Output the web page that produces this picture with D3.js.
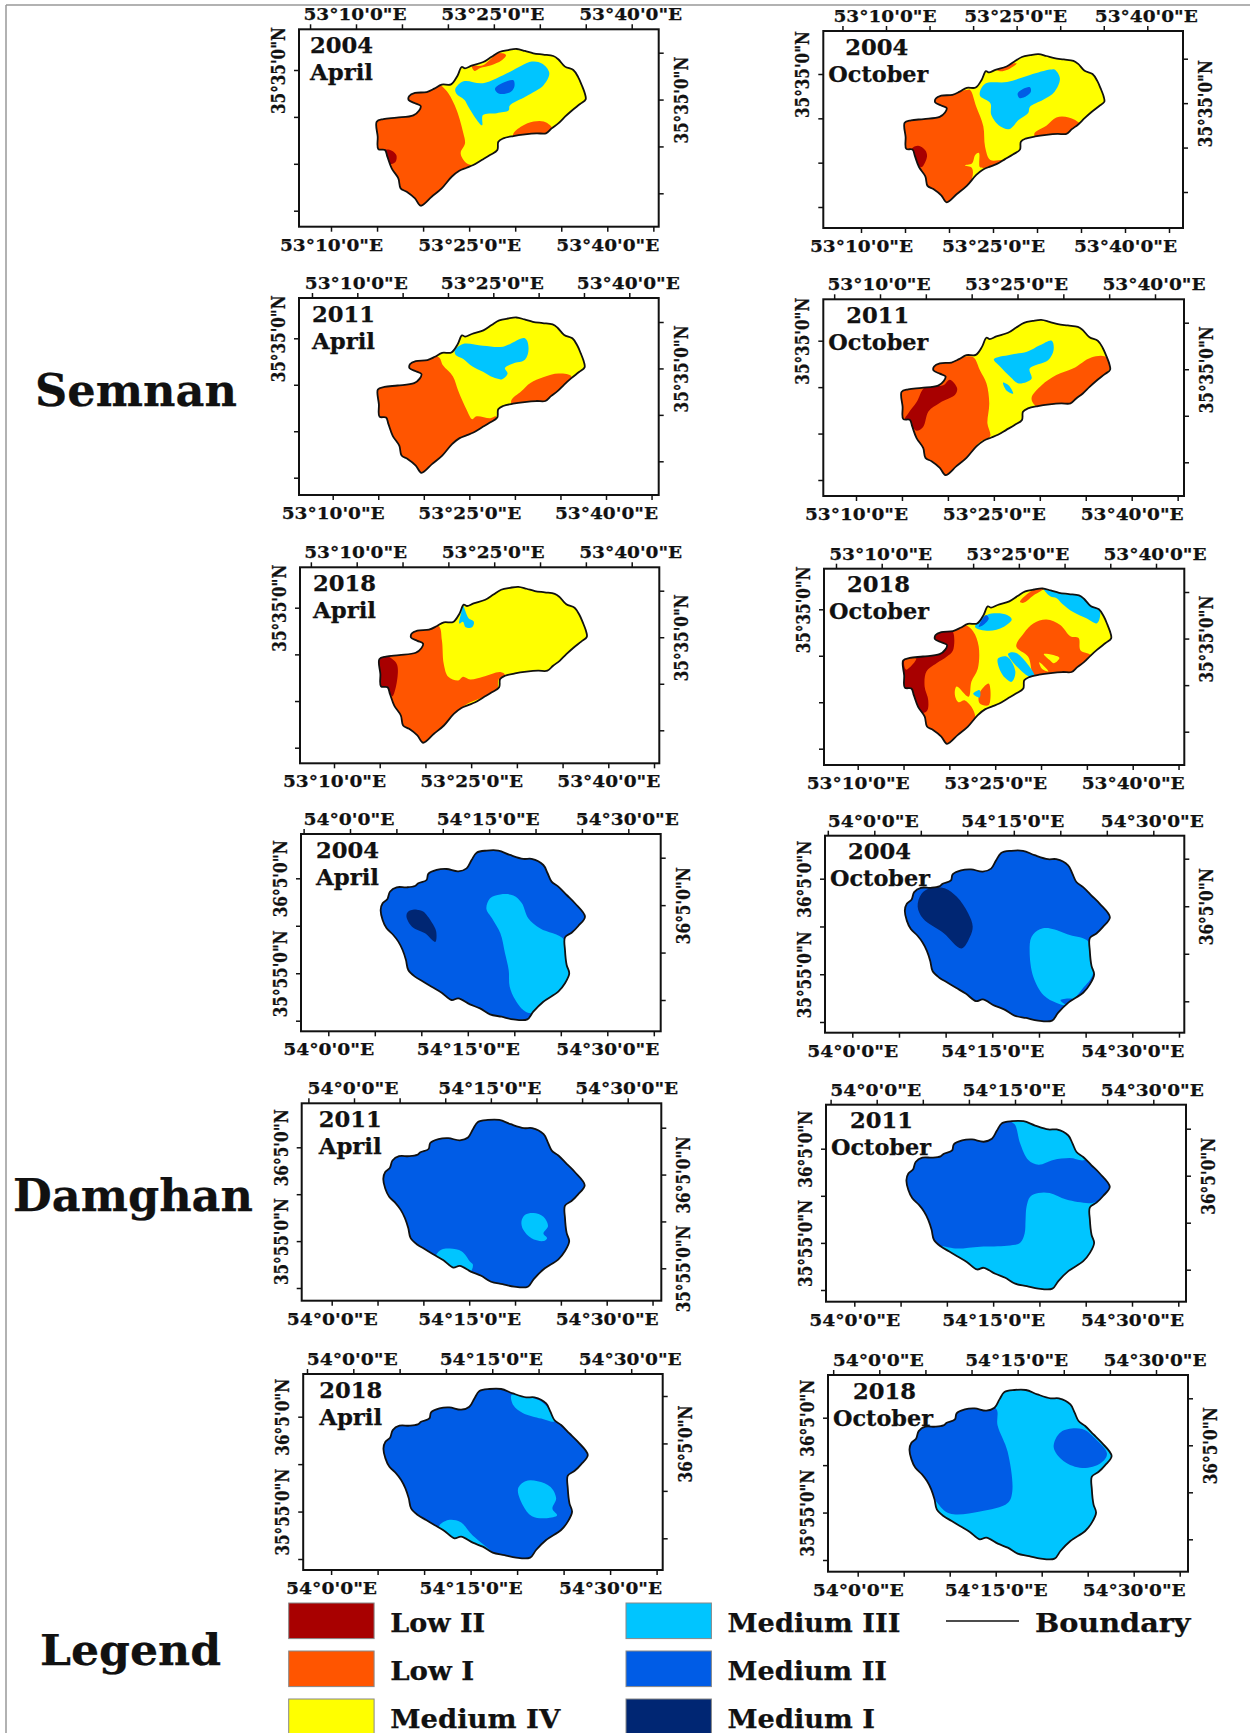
<!DOCTYPE html>
<html>
<head>
<meta charset="utf-8">
<script src="https://cdn.jsdelivr.net/npm/d3@7"></script>
<style>
  body { margin: 0; background: #fff; }
  text { font-family: "DejaVu Serif", serif; font-weight: bold; fill: #111; stroke: #111; stroke-width: 0.25; }
</style>
</head>
<body>
<script>
// all map points are [lon, lat] in arc minutes from the region's base degree
// semnan base 53E 35N, damghan base 54E 36N

let classNames = ['Low II', 'Low I', 'Medium IV', 'Medium III', 'Medium II', 'Medium I']
let classColors = ['#a80000', '#ff5500', '#ffff00', '#00c5ff', '#005ce6', '#002673']

let semnanBoundary = [[14.96,29.49],[15.68,29.77],[17.13,29.92],[18.94,30.17],[19.55,30.66],[19.74,31.16],[19.12,31.45],[18.43,31.8],[18.5,32.23],[19.12,32.55],[20.39,32.65],[21.22,33.01],[22.02,33.44],[23.03,33.47],[23.72,34.36],[24.19,35.32],[24.55,35.18],[25.27,35.46],[26.54,35.85],[27.44,36.42],[28.28,36.92],[29.25,37.13],[30.16,37.24],[31.06,37.03],[31.97,36.78],[33.05,36.64],[34.14,36.49],[34.68,36.14],[35.41,35.36],[36.31,35],[36.85,34.22],[37.22,33.4],[37.58,32.44],[37.65,31.87],[37.04,31.37],[36.13,30.66],[35.41,30.02],[34.68,29.31],[33.96,28.78],[33.34,28.25],[32.33,28.25],[31.06,28.14],[29.8,27.96],[28.71,27.71],[28.17,27.36],[28.06,26.47],[27.26,25.93],[26.36,25.4],[25.45,24.87],[24.73,24.58],[23.93,24.26],[23.1,23.62],[22.02,22.38],[20.93,21.49],[19.74,20.53],[19.12,21.31],[18.22,22.02],[17.56,22.38],[17.31,23.45],[16.59,24.51],[16.12,25.76],[15.86,26.47],[15.14,26.57],[15.07,27.89]]

let damghanBoundary = [[5.63,1.66],[5.84,2.37],[6.34,2.79],[6.63,3.59],[7.35,4.05],[8.42,4.05],[9.32,4.19],[9.68,4.47],[10.57,4.82],[10.75,5.46],[11.65,5.88],[12.72,5.98],[13.98,5.74],[14.87,6.05],[15.41,6.93],[15.95,7.7],[17.03,7.92],[18.28,7.92],[19.53,7.46],[20.97,7.04],[21.86,7.04],[23.12,6.4],[23.58,5.53],[24.01,4.65],[24.73,4.12],[25.63,3.24],[26.52,2.37],[27.6,0.96],[26.88,-0.02],[26.16,-0.73],[25.45,-1.22],[25.45,-2.55],[25.63,-4.13],[25.91,-5.01],[25.45,-6.06],[24.73,-6.94],[23.12,-8],[22.04,-9.05],[21.4,-9.86],[19.89,-9.86],[18.64,-9.58],[17.38,-9.33],[16.31,-8.7],[15.23,-8.28],[13.98,-7.64],[13.26,-7.82],[12.19,-7.05],[11.11,-6.42],[10.22,-5.89],[9.32,-5.36],[8.6,-4.66],[8.35,-3.61],[7.99,-2.55],[7.53,-1.67],[6.99,-0.97],[6.27,-0.27],[5.84,0.61]]

// class patches per panel, cls is an index into classNames, later ones paint over earlier
let semApr04 = [
  { cls: 1, pts: [[21.47,33.58],[22.02,33.29],[22.74,32.51],[23.64,30.73],[24.37,28.25],[24.55,27.18],[24.08,26.11],[24.73,25.05],[25.45,24.69],[25.09,23.27],[19.3,19.71],[14.23,24.69],[14.23,30.38],[18.58,32.87]] },
  { cls: 1, pts: [[25.3,35.4],[26.5,35.5],[28.2,36.8],[29.0,36.6],[28.5,36.0],[27.4,35.5],[26.2,35.2],[25.6,34.9]] },
  { cls: 1, pts: [[29.8,28.2],[30.7,29.0],[32.0,29.5],[33.1,29.5],[34.0,28.8],[33.6,27.9],[29.8,27.7]] },
  { cls: 3, pts: [[23.5,33.0],[24.4,33.8],[26.5,33.6],[29.4,34.8],[31.8,35.9],[32.9,35.7],[33.7,34.7],[33.1,33.4],[31.2,32.2],[29.4,31.2],[29.3,30.7],[28.0,30.4],[26.5,30.2],[26.4,29.1],[25.6,30.0],[24.9,31.1],[24.5,31.8],[23.6,32.5]] },
  { cls: 4, pts: [[27.8,33.0],[28.4,33.5],[29.8,33.9],[29.9,33.2],[29.4,32.6],[28.2,32.5]] },
  { cls: 0, pts: [[15.9,26.5],[16.6,26.4],[17.1,25.9],[17.0,25.2],[16.3,25.0],[15.5,26.0]] }
]
let semOct04 = [
  { cls: 1, pts: [[22.0,33.2],[22.4,33.2],[23.1,31.3],[23.9,29.1],[24.1,26.8],[24.7,25.3],[26.2,25.3],[25.4,24.7],[23.9,24.4],[23.5,24.5],[23.4,26.1],[23.0,25.9],[22.6,24.9],[21.8,24.7],[22.6,24.4],[22.6,23.2],[19.7,19.3],[14.1,24.5],[14.1,30.6],[18.6,32.4]] },
  { cls: 1, pts: [[25.4,35.5],[26.9,36.1],[27.7,36.2],[26.9,35.6],[25.8,35.3]] },
  { cls: 1, pts: [[29.7,28.3],[31.1,29.2],[32.2,30.1],[33.6,30.1],[34.9,29.4],[35.1,28.9],[33.4,27.9],[30.0,27.6]] },
  { cls: 3, pts: [[23.5,32.6],[24.1,33.9],[26.6,34.1],[29.2,34.9],[31.5,35.5],[32.0,35.5],[32.6,34.5],[32.0,33.0],[30.7,32.1],[29.2,31.3],[29.0,30.6],[27.9,29.8],[26.9,28.8],[25.8,29.1],[24.8,30.4],[24.7,31.7]] },
  { cls: 4, pts: [[27.8,32.8],[28.4,33.3],[29.2,33.5],[29.3,33.0],[28.6,32.4],[28.0,32.3]] },
  { cls: 0, pts: [[15.8,26.6],[16.5,26.9],[17.3,26.4],[17.5,25.7],[16.9,24.5],[16.5,24.7],[15.9,26.1]] }
]
let semApr11 = [
  { cls: 1, pts: [[21.6,33.0],[22.1,32.1],[23.2,30.9],[23.8,29.3],[24.7,27.3],[25.3,26.3],[25.8,26.6],[27.3,26.4],[27.9,26.6],[27.6,25.5],[24.3,23.7],[19.2,19.4],[14.1,24.4],[14.1,30.5],[18.5,32.7]] },
  { cls: 1, pts: [[29.6,28.3],[30.7,29.3],[31.7,30.2],[33.1,30.8],[34.8,31.2],[36.2,30.9],[35.0,29.3],[33.5,28.0],[29.8,27.6]] },
  { cls: 3, pts: [[23.4,33.7],[24.3,34.4],[26.5,34.2],[28.7,34.1],[31.1,35.0],[31.5,33.9],[31.1,32.7],[29.8,32.3],[28.9,31.8],[29.2,31.2],[28.6,30.6],[27.6,30.8],[26.5,31.4],[25.3,32.0],[24.3,32.8],[23.5,33.2]] }
]
let semOct11 = [
  { cls: 1, pts: [[21.9,33.3],[22.8,33.2],[23.5,31.8],[24.2,30.4],[24.5,28.3],[24.3,26.1],[24.6,24.7],[23.5,24.1],[19.5,20.0],[14.4,24.7],[14.4,30.4],[18.4,32.6],[20.6,32.9]] },
  { cls: 1, pts: [[29.1,28.8],[30.2,30.2],[31.8,31.3],[33.6,32.0],[35.6,33.2],[37.1,33.3],[37.8,32.4],[35.5,30.0],[33.6,28.3],[29.7,27.9]] },
  { cls: 0, pts: [[15.3,26.5],[15.7,27.2],[16.6,28.4],[17.5,30.0],[19.5,30.2],[20.2,30.8],[21.0,29.9],[20.8,29.2],[19.1,28.3],[17.9,27.4],[17.3,25.7],[16.6,25.3],[16.1,25.7]] },
  { cls: 3, pts: [[25.0,33.0],[26.8,33.5],[28.6,33.8],[30.0,34.5],[31.3,35.0],[31.5,34.0],[30.9,32.9],[28.9,32.0],[29.1,30.9],[27.7,30.4],[26.8,31.1],[25.7,32.2]] },
  { cls: 3, pts: [[26.0,30.5],[26.6,30.2],[27.1,29.3],[26.4,29.6]] }
]
let semApr18 = [
  { cls: 1, pts: [[21.4,33.1],[21.8,31.5],[22.0,29.0],[22.5,27.6],[23.6,27.2],[24.1,27.6],[24.9,27.3],[26.3,27.6],[28.2,28.1],[28.7,27.8],[28.0,27.3],[27.8,26.2],[24.1,24.4],[19.4,20.1],[14.3,25.1],[14.3,30.5],[18.3,32.8]] },
  { cls: 0, pts: [[14.5,29.9],[15.6,29.9],[16.9,28.9],[16.4,25.5],[16.1,25.8],[15.4,26.5],[14.5,26.5]] },
  { cls: 3, pts: [[24.1,35.2],[24.7,33.9],[25.3,33.5],[25.1,32.9],[24.4,32.9],[24.1,33.5],[23.7,33.3],[23.9,34.4]] }
]
let semOct18 = [
  { cls: 1, pts: [[21.7,33.3],[22.6,32.6],[23.2,31.0],[23.1,28.6],[22.4,27.2],[22.1,25.6],[20.8,26.7],[20.6,25.8],[21.0,25.0],[21.7,25.2],[22.8,23.4],[19.3,20.2],[14.3,24.5],[14.3,30.3],[18.6,32.8]] },
  { cls: 1, pts: [[24.3,27.0],[24.3,24.7],[23.3,24.9],[23.3,26.0]] },
  { cls: 3, pts: [[22.6,25.9],[23.3,26.3],[23.3,25.5]] },
  { cls: 0, pts: [[14.4,29.7],[16.1,29.9],[18.6,30.1],[19.3,30.8],[19.6,31.2],[18.4,31.9],[19.0,32.5],[20.3,32.7],[20.4,30.6],[19.7,29.9],[18.6,29.2],[17.5,28.3],[17.3,26.7],[17.7,25.2],[17.5,24.0],[15.5,24.0],[14.4,26.0]] },
  { cls: 1, pts: [[15.1,29.5],[16.4,29.7],[15.3,28.5]] },
  { cls: 1, pts: [[27.3,31.0],[28.1,32.4],[29.2,33.5],[30.6,33.9],[32.1,33.3],[33.2,32.1],[34.1,31.9],[34.3,30.6],[35.5,30.0],[34.8,28.5],[33.9,27.9],[31.3,27.5],[29.3,27.7],[28.6,29.9]] },
  { cls: 2, pts: [[30.3,30.2],[32.0,29.8],[31.4,29.2],[31.0,29.5]] },
  { cls: 2, pts: [[29.8,29.3],[30.6,28.6],[30.8,28.3],[30.1,28.6]] },
  { cls: 1, pts: [[27.7,35.8],[29.2,37.1],[30.3,37.2],[29.2,36.5],[28.1,35.7]] },
  { cls: 3, pts: [[30.3,37.2],[32.1,36.7],[34.3,36.4],[36.4,34.9],[36.1,33.5],[35.0,34.0],[33.5,34.7],[32.3,35.6],[31.7,36.2],[31.0,36.4]] },
  { cls: 3, pts: [[22.8,33.1],[24.1,34.4],[26.3,34.4],[26.8,33.9],[25.9,33.1],[24.3,32.7]] },
  { cls: 4, pts: [[23.2,33.1],[24.0,34.4],[24.3,34.0],[23.7,33.3]] },
  { cls: 3, pts: [[25.3,29.7],[26.3,29.9],[27.2,28.3],[26.8,27.2],[26.1,27.6],[25.5,28.5]] },
  { cls: 3, pts: [[26.4,30.2],[27.3,30.3],[29.3,27.8],[28.6,27.8]] }
]
let damApr04 = [
  { cls: 3, pts: [[17.0,1.8],[17.4,2.9],[18.5,3.3],[19.9,3.2],[20.8,2.4],[21.5,0.8],[22.8,-0.3],[25.4,-1.5],[26.0,-5.0],[22.0,-9.2],[21.0,-8.9],[20.1,-7.8],[19.5,-6.4],[19.4,-4.7],[19.0,-2.9],[18.5,-0.8],[17.6,0.8]] },
  { cls: 5, pts: [[8.4,1.0],[8.6,1.5],[9.5,1.7],[10.2,1.5],[11.1,0.4],[11.6,-0.6],[11.5,-1.7],[10.4,-0.8],[9.0,-0.1]] }
]
let damOct04 = [
  { cls: 3, pts: [[19.0,-2.6],[19.2,-1.1],[20.1,-0.3],[21.2,-0.2],[23.3,-0.9],[25.3,-1.6],[25.8,-4.9],[24.6,-6.6],[23.0,-8.2],[21.9,-8.0],[20.5,-7.2],[19.4,-5.3]] },
  { cls: 4, pts: [[22.3,-7.7],[23.7,-7.6],[23.0,-8.2]] },
  { cls: 5, pts: [[7.0,2.1],[7.4,3.4],[8.3,4.0],[9.9,4.0],[11.2,3.1],[12.4,1.4],[12.9,0.0],[12.6,-1.1],[11.7,-2.3],[9.8,-0.7],[7.6,0.8]] }
]
let damApr11 = [
  { cls: 3, pts: [[20.7,-2.9],[21.1,-2.2],[22.0,-2.0],[23.1,-2.4],[23.6,-3.4],[23.1,-4.2],[23.5,-4.7],[23.1,-5.0],[21.8,-4.7],[20.9,-3.8]] },
  { cls: 3, pts: [[11.4,-6.5],[12.0,-5.9],[12.9,-5.8],[14.2,-6.1],[15.1,-7.2],[15.4,-7.5],[15.1,-8.3],[13.3,-8.1],[11.5,-6.8]] }
]
let damOct11 = [
  { cls: 3, pts: [[17.0,7.9],[17.4,7.5],[17.9,5.6],[18.8,3.8],[19.9,3.3],[21.5,3.8],[23.3,4.0],[24.9,3.8],[26.2,5.2],[23.7,8.0],[17.0,8.3]] },
  { cls: 3, pts: [[18.6,-1.2],[19.0,-0.1],[19.9,0.3],[21.1,0.3],[22.9,-0.4],[25.3,-0.8],[26.5,-0.8],[26.5,-10.7],[17.2,-10.7],[9.3,-5.4],[11.1,-5.6],[13.6,-5.4],[16.5,-5.3],[17.9,-5.0],[18.4,-4.0],[18.5,-2.6]] }
]
let damApr18 = [
  { cls: 3, pts: [[19.4,7.3],[20.6,7.2],[22.6,6.6],[23.6,5.5],[24.0,4.5],[22.6,4.8],[20.6,5.4],[19.6,6.2]] },
  { cls: 3, pts: [[20.1,-2.6],[20.9,-1.8],[22.2,-1.8],[23.6,-2.4],[24.2,-3.6],[23.8,-4.7],[24.3,-5.4],[23.2,-5.7],[21.6,-5.5],[20.6,-4.3]] },
  { cls: 3, pts: [[11.6,-6.6],[12.6,-5.9],[13.9,-6.1],[15.2,-7.5],[17.2,-9.2],[15.9,-8.7],[13.2,-7.8]] }
]
let damOct18 = [
  { cls: 4, pts: [[15.0,6.0],[15.2,4.2],[16.3,1.4],[16.8,-2.8],[16.3,-4.0],[13.3,-4.9],[10.0,-5.1],[8.6,-3.9],[7.3,-1.7],[4.6,0.7],[4.6,3.9],[10.0,6.0]] },
  { cls: 4, pts: [[21.3,1.9],[22.1,3.5],[24.4,3.8],[25.8,2.8],[27.1,1.2],[26.4,0.2],[24.4,-0.3],[22.4,0.4]] }
]

let regions = {
  semnan: {
    boundary: semnanBoundary, lonBase: 53, latBase: 35,
    lonRef: [10, 40], latRefLeft: [35, 20], latRefRight: [40, 25],
    topTicks: [5, 10, 15, 20, 25, 30, 35, 40], bottomTicks: [10, 15, 20, 25, 30, 35, 40, 45],
    leftTicks: [35, 30, 25, 20], rightTicks: [40, 35, 30, 25],
    lonLabels: [10, 25, 40], leftLabels: [35], rightLabels: [35]
  },
  damghan: {
    boundary: damghanBoundary, lonBase: 54, latBase: 36,
    lonRef: [0, 30], latRefLeft: [5, -10], latRefRight: [10, -5],
    topTicks: [-5, 0, 5, 10, 15, 20, 25, 30], bottomTicks: [0, 5, 10, 15, 20, 25, 30, 35],
    leftTicks: [5, 0, -5, -10], rightTicks: [10, 5, 0, -5],
    lonLabels: [0, 15, 30], leftLabels: [5, -5], rightLabels: [5]
  }
}

// frame = x0,x1,y0,y1 ; bottom/top = pixel of the two lonRef ticks ; left/right = pixel of the two lat ticks
let panels = [
  { region: 'semnan', year: '2004', month: 'April', base: 2, patches: semApr04, frame: [299, 658.7, 29.3, 226.7], bottom: [331, 607.3], top: [356, 631.7], left: [70, 210.7], right: [52.7, 193.3], labelDx: 11 },
  { region: 'semnan', year: '2004', month: 'October', base: 2, patches: semOct04, frame: [823.3, 1183, 31, 228], bottom: [861, 1125], top: [886, 1147.3], left: [74, 207], right: [58.7, 192], labelDx: 22 },
  { region: 'semnan', year: '2011', month: 'April', base: 2, patches: semApr11, frame: [299, 658.7, 298, 495], bottom: [332.7, 606], top: [357.3, 629.3], left: [338.3, 477.7], right: [322, 461.3], labelDx: 13 },
  { region: 'semnan', year: '2011', month: 'October', base: 2, patches: semOct11, frame: [823.3, 1184, 299.3, 496], bottom: [856, 1131.7], top: [880, 1155], left: [340.7, 480], right: [322.7, 462.3], labelDx: 23 },
  { region: 'semnan', year: '2018', month: 'April', base: 2, patches: semApr18, frame: [300, 659.3, 567.3, 763.3], bottom: [334, 608.3], top: [356.7, 631.7], left: [607.7, 747.7], right: [590.7, 730.3], labelDx: 13 },
  { region: 'semnan', year: '2018', month: 'October', base: 2, patches: semOct18, frame: [824, 1184.3, 568.7, 765], bottom: [857.7, 1132.7], top: [881.7, 1156], left: [609.3, 748.7], right: [592, 731.7], labelDx: 23 },
  { region: 'damghan', year: '2004', month: 'April', base: 4, patches: damApr04, frame: [301, 660.7, 834, 1031.3], bottom: [328.3, 607.3], top: [350, 628.3], left: [878.3, 1020.7], right: [857.7, 1000], labelDx: 15 },
  { region: 'damghan', year: '2004', month: 'October', base: 4, patches: damOct04, frame: [825, 1184.3, 835.7, 1032.7], bottom: [852.3, 1132.3], top: [874.3, 1153.3], left: [878.7, 1022], right: [858.7, 1001.3], labelDx: 23 },
  { region: 'damghan', year: '2011', month: 'April', base: 4, patches: damApr11, frame: [301.7, 661.3, 1103.3, 1300.7], bottom: [331.7, 606.7], top: [354, 627.7], left: [1147.3, 1288], right: [1127.7, 1268.3], labelDx: 17, rightLabels: [5, -5] },
  { region: 'damghan', year: '2011', month: 'October', base: 4, patches: damOct11, frame: [826, 1186, 1104.7, 1301.7], bottom: [854.3, 1132], top: [876.7, 1153.3], left: [1148.7, 1290], right: [1128.7, 1269.7], labelDx: 24 },
  { region: 'damghan', year: '2018', month: 'April', base: 4, patches: damApr18, frame: [303.2, 662.7, 1374, 1570], bottom: [331.1, 610.1], top: [353.3, 631.2], left: [1416.7, 1559], right: [1396, 1538.3], labelDx: 16 },
  { region: 'damghan', year: '2018', month: 'October', base: 3, patches: damOct18, frame: [828, 1188, 1375, 1571.7], bottom: [857.7, 1133.7], top: [879.3, 1156], left: [1417.7, 1560], right: [1398.3, 1539.3], labelDx: 25 }
]

let width = 1250
let height = 1733

let svg = d3.select('body')
  .append('svg')
  .attr('width', width)
  .attr('height', height)

// page rules top and left
svg.append('line').attr('x1', 6).attr('x2', width).attr('y1', 5).attr('y2', 5).attr('stroke', '#999').attr('stroke-width', 1.5)
svg.append('line').attr('x1', 6).attr('x2', 6).attr('y1', 5).attr('y2', height).attr('stroke', '#999').attr('stroke-width', 1.5)

let lonText = (base, m) => {
  let t = base * 60 + m
  return `${Math.floor(t / 60)}°${t % 60}'0"E`
}
let latText = (base, m) => {
  let t = base * 60 + m
  return `${Math.floor(t / 60)}°${t % 60}'0"N`
}

let styleAxis = g => {
  g.select('.domain').remove()
  g.selectAll('line').attr('stroke', '#111').attr('stroke-width', 1.5)
}

let horizontalLabels = (g, dy, dx) => {
  g.selectAll('text')
    .attr('font-size', 16.5)
    .attr('x', dx)
    .attr('y', dy).attr('dy', 0)
    .attr('text-anchor', 'middle')
    .each(function () {
      let s = d3.select(this).text()
      if (s) d3.select(this).attr('textLength', s.length >= 9 ? 103 : 91).attr('lengthAdjust', 'spacingAndGlyphs')
    })
}

let verticalLabels = (g, dy) => {
  g.selectAll('text')
    .attr('font-size', 18)
    .attr('transform', 'rotate(-90)')
    .attr('x', 0).attr('y', dy).attr('dy', 0)
    .attr('text-anchor', 'middle')
    .each(function () {
      let s = d3.select(this).text()
      if (s) d3.select(this).attr('textLength', s.length >= 9 ? 87 : 77).attr('lengthAdjust', 'spacingAndGlyphs')
    })
}

let patchLine = d3.line().curve(d3.curveCatmullRomClosed.alpha(0.5))
let boundaryLine = d3.line().curve(d3.curveCatmullRomClosed.alpha(0.5))

panels.forEach((p, i) => {
  let r = regions[p.region]
  let [x0, x1, y0, y1] = p.frame

  let x = d3.scaleLinear().domain(r.lonRef).range(p.bottom)
  let xTop = d3.scaleLinear().domain(r.lonRef).range(p.top)
  let y = d3.scaleLinear().domain(r.latRefLeft).range(p.left)
  let yRight = d3.scaleLinear().domain(r.latRefRight).range(p.right)

  let toPx = pts => pts.map(d => [x(d[0]), y(d[1])])
  let g = svg.append('g')

  g.append('clipPath').attr('id', 'clip' + i)
    .append('path').attr('d', boundaryLine(toPx(r.boundary)))

  // whole basin in its main class, then the other classes clipped to it
  g.append('path')
    .attr('d', boundaryLine(toPx(r.boundary)))
    .attr('fill', classColors[p.base])

  g.append('g')
    .attr('clip-path', `url(#clip${i})`)
    .selectAll('path')
    .data(p.patches)
    .join('path')
      .attr('d', d => patchLine(toPx(d.pts)))
      .attr('fill', d => classColors[d.cls])

  g.append('path')
    .attr('d', boundaryLine(toPx(r.boundary)))
    .attr('fill', 'none')
    .attr('stroke', '#111')
    .attr('stroke-width', 1.8)

  g.append('rect')
    .attr('x', x0).attr('y', y0)
    .attr('width', x1 - x0).attr('height', y1 - y0)
    .attr('fill', 'none')
    .attr('stroke', '#111')
    .attr('stroke-width', 2)

  let rightLabels = p.rightLabels || r.rightLabels

  g.append('g')
    .attr('transform', `translate(0, ${y1})`)
    .call(d3.axisBottom(x).tickValues(r.bottomTicks).tickSize(5)
      .tickFormat(d => r.lonLabels.includes(d) ? lonText(r.lonBase, d) : ''))
    .call(styleAxis)
    .call(a => horizontalLabels(a, 24, 0))

  g.append('g')
    .attr('transform', `translate(0, ${y0})`)
    .call(d3.axisTop(xTop).tickValues(r.topTicks).tickSize(5)
      .tickFormat(d => r.lonLabels.includes(d) ? lonText(r.lonBase, d) : ''))
    .call(styleAxis)
    .call(a => horizontalLabels(a, -9, -1.5))

  g.append('g')
    .attr('transform', `translate(${x0}, 0)`)
    .call(d3.axisLeft(y).tickValues(r.leftTicks).tickSize(5)
      .tickFormat(d => r.leftLabels.includes(d) ? latText(r.latBase, d) : ''))
    .call(styleAxis)
    .call(a => verticalLabels(a, -14))

  g.append('g')
    .attr('transform', `translate(${x1}, 0)`)
    .call(d3.axisRight(yRight).tickValues(r.rightTicks).tickSize(5)
      .tickFormat(d => rightLabels.includes(d) ? latText(r.latBase, d) : ''))
    .call(styleAxis)
    .call(a => verticalLabels(a, 29))

  g.append('text')
    .attr('x', x0 + p.labelDx).attr('y', y0 + 23.5)
    .attr('font-size', 22)
    .attr('textLength', 63).attr('lengthAdjust', 'spacingAndGlyphs')
    .text(p.year)

  g.append('text')
    .attr('x', x0 + (p.month === 'April' ? p.labelDx : 5)).attr('y', y0 + 50.5)
    .attr('font-size', 22)
    .attr('textLength', p.month === 'April' ? 63 : 100).attr('lengthAdjust', 'spacingAndGlyphs')
    .text(p.month)
})

// region headings
let headings = [
  { label: 'Semnan', x: 35, y: 406, w: 202, size: 44 },
  { label: 'Damghan', x: 13, y: 1211, w: 240, size: 44 },
  { label: 'Legend', x: 40, y: 1665, w: 181, size: 42 }
]
svg.selectAll('.heading')
  .data(headings)
  .join('text')
    .attr('class', 'heading')
    .attr('x', d => d.x).attr('y', d => d.y)
    .attr('font-size', d => d.size)
    .attr('textLength', d => d.w).attr('lengthAdjust', 'spacingAndGlyphs')
    .text(d => d.label)

// legend, three rows in two columns
let legendWidths = [95, 84, 170, 173, 159.5, 147.5]
let legendCol = d3.scaleOrdinal().domain([0, 1]).range([288.7, 626])
let legendRow = d3.scaleLinear().domain([0, 2]).range([1603, 1699])

let legend = svg.selectAll('.legend-item')
  .data(classNames)
  .join('g')
    .attr('class', 'legend-item')
    .attr('transform', (d, i) => `translate(${legendCol(Math.floor(i / 3))}, ${legendRow(i % 3)})`)

legend.append('rect')
  .attr('width', 85.4).attr('height', 35.6)
  .attr('fill', (d, i) => classColors[i])
  .attr('stroke', '#888')
  .attr('stroke-width', 1)

legend.append('text')
  .attr('x', 101.5).attr('y', 29)
  .attr('font-size', 26)
  .attr('textLength', (d, i) => legendWidths[i]).attr('lengthAdjust', 'spacingAndGlyphs')
  .text(d => d)

svg.append('line')
  .attr('x1', 946).attr('x2', 1019).attr('y1', 1621).attr('y2', 1621)
  .attr('stroke', '#111').attr('stroke-width', 1.5)

svg.append('text')
  .attr('x', 1035).attr('y', 1632)
  .attr('font-size', 26)
  .attr('textLength', 155.5).attr('lengthAdjust', 'spacingAndGlyphs')
  .text('Boundary')
</script>
</body>
</html>
